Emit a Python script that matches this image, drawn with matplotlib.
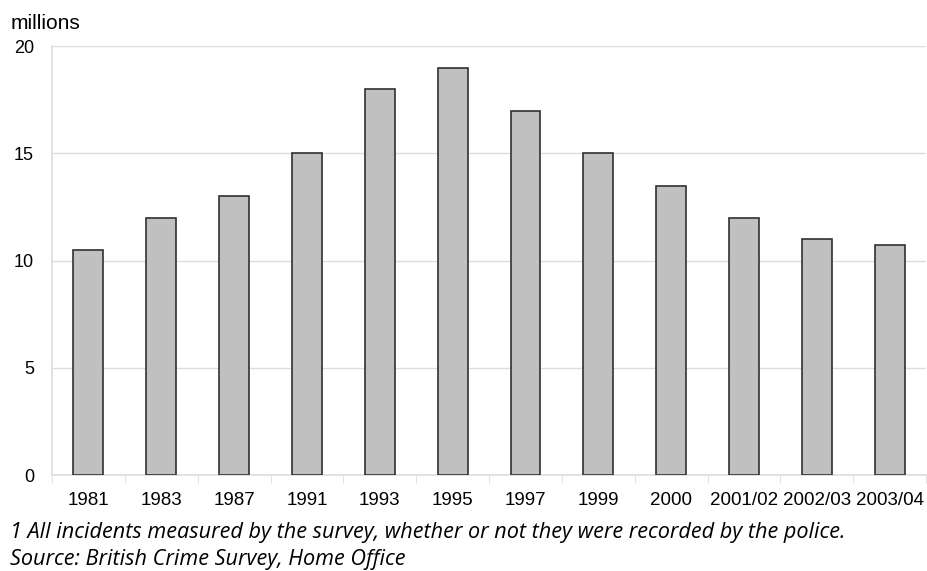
import matplotlib
matplotlib.use("Agg")
from matplotlib import pyplot as plt

years = ["1981", "1983", "1987", "1991", "1993", "1995", "1997", "1999",
         "2000", "2001/02", "2002/03", "2003/04"]
incidents = [10.5, 12, 13, 15, 18, 19, 17, 15, 13.5, 12, 11, 10.75]
yticks = [0, 5, 10, 15, 20]

plt.rcParams["font.family"] = ["Liberation Sans", "DejaVu Sans"]

fig = plt.figure(figsize=(9.27, 5.71), dpi=100)
ax = fig.add_axes([0.0561, 0.168, 0.943, 0.751])

x = range(len(years))
ax.bar(x, incidents, width=0.41, color="#c0c0c0", edgecolor="#303030",
       linewidth=1.2, zorder=3)

ax.set_xlim(-0.5, len(years) - 0.5)
ax.set_ylim(0, 20)
ax.set_yticks(yticks)
ax.set_yticklabels([str(t) for t in yticks], fontsize=13)
ax.yaxis.grid(True, color="#dddddd", linewidth=1, zorder=0)

ax.set_xticks(list(x))
ax.set_xticklabels(years, fontsize=13.5)
ax.tick_params(axis="x", length=0, pad=12)
ax.tick_params(axis="y", length=0, pad=13)
# category separator ticks below the axis
ax.set_xticks([i + 0.5 for i in range(-1, len(years))], minor=True)
ax.tick_params(axis="x", which="minor", length=6, color="#dddddd")

for s in ["top", "right"]:
    ax.spines[s].set_visible(False)
for s in ["left", "bottom"]:
    ax.spines[s].set_color("#dddddd")
    ax.spines[s].set_linewidth(1.2)

fig.text(0.011, 0.942, "millions", fontsize=15, ha="left", va="bottom")

note_font = ["Open Sans", "DejaVu Sans"]
fig.text(0.011, 0.067, "1 All incidents measured by the survey, whether or not they were recorded by the police.",
         fontsize=15.6, style="italic", family=note_font, va="center")
fig.text(0.011, 0.020, "Source: British Crime Survey, Home Office",
         fontsize=15.6, style="italic", family=note_font, va="center")

fig.savefig("out.png", dpi=100)
